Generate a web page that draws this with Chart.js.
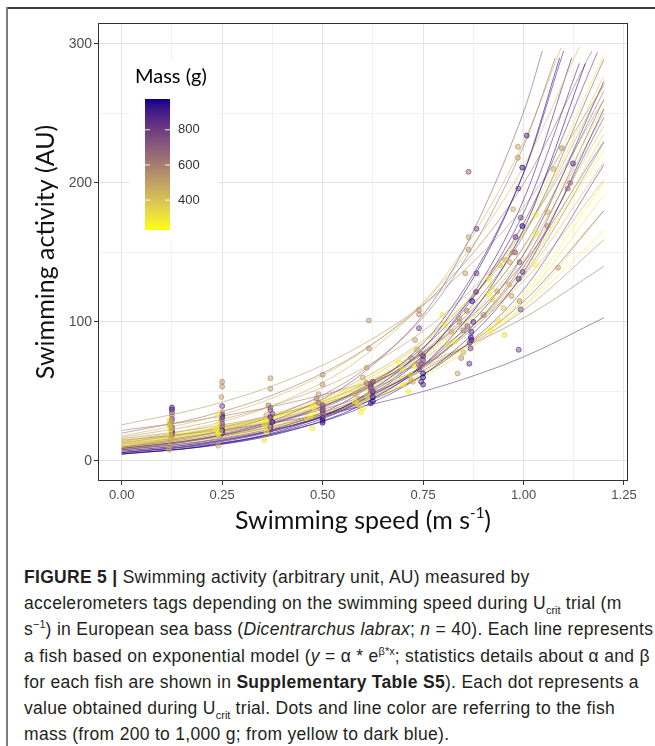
<!DOCTYPE html>
<html>
<head>
<meta charset="utf-8">
<script src="https://cdn.jsdelivr.net/npm/chart.js@4.4.1/dist/chart.umd.min.js"></script>
<style>
  html, body { margin: 0; padding: 0; background: #fff; }
  #wrap { position: relative; width: 655px; height: 746px; overflow: hidden; }
  #myChart { position: absolute; left: 0; top: 0; }
  .frameTop { position: absolute; left: 7px; top: 7px; width: 648px; height: 2px; background: #3c3c3c; }
  .frameLeft { position: absolute; left: 6px; top: 7px; width: 2px; height: 739px; background: #7d7d7d; }
  #caption { position: absolute; left: 24px; top: 564px; font-family: "Liberation Sans", Arial, sans-serif;
             font-size: 17.5px; letter-spacing: 0.3px; color: #231f20; white-space: nowrap; }
  #caption div { height: 26.2px; line-height: 26.2px; }
  #caption sub, #caption sup { font-size: 11px; line-height: 0; letter-spacing: 0; }
</style>
</head>
<body>
<div id="wrap">
  <canvas id="myChart" width="655" height="545"></canvas>
  <div class="frameTop"></div>
  <div class="frameLeft"></div>
  <div id="caption">
    <div><b>FIGURE 5 |</b> Swimming activity (arbitrary unit, AU) measured by</div>
    <div>accelerometers tags depending on the swimming speed during U<sub>crit</sub> trial (m</div>
    <div>s<sup>−1</sup>) in European sea bass (<i>Dicentrarchus labrax</i>; <i>n</i> = 40). Each line represents</div>
    <div>a fish based on exponential model (<i>y</i> = α * e<sup>β*x</sup>; statistics details about α and β</div>
    <div>for each fish are shown in <b>Supplementary Table S5</b>). Each dot represents a</div>
    <div>value obtained during U<sub>crit</sub> trial. Dots and line color are referring to the fish</div>
    <div>mass (from 200 to 1,000 g; from yellow to dark blue).</div>
  </div>
</div>
<script>
var stationX = [0, 0.2, 0.4, 0.6, 0.8, 1.0, 1.2];

// fish mass (g), one per line
var fishMass = [720, 640, 950, 440, 420, 880, 960, 520, 820, 300,
                700, 330, 850, 480, 650, 280, 900, 750, 380, 600,
                250, 800, 430, 300, 700, 260, 550, 600, 800, 620,
                500, 350, 920, 400, 720, 240, 880, 460, 680, 330];

// activity of each fitted line at stationX (null = above the panel)
var curveY = [
    [8, 15.9, 31.7, 63.2, 125.9, 250.8, null],
    [10, 18.7, 34.8, 65.0, 121.3, 226.3, null],
    [5, 10.5, 22.2, 46.7, 98.3, 207.1, null],
    [14, 24.5, 42.8, 74.9, 131.0, 229.1, null],
    [18, 29.5, 48.2, 78.9, 129.2, 211.6, null],
    [6, 11.8, 23.3, 45.9, 90.5, 178.4, null],
    [5, 10.1, 20.3, 41.0, 82.6, 166.5, null],
    [26, 38.4, 56.7, 83.8, 123.7, 182.7, 269.9],
    [9, 16.2, 29.2, 52.7, 94.9, 171.0, null],
    [11, 19.0, 32.8, 56.7, 97.9, 169.0, 292],
    [9, 16.0, 28.6, 51.0, 90.9, 162.1, 289],
    [12, 20.2, 34.2, 57.6, 97.2, 164.0, 277],
    [7, 12.9, 23.8, 43.8, 80.6, 148.5, 273],
    [13, 21.6, 35.8, 59.4, 98.5, 163.4, 271],
    [10, 17.3, 29.9, 51.6, 89.1, 154.0, 266],
    [12, 20.0, 33.2, 55.3, 92.0, 153.1, 255],
    [6, 11.2, 20.9, 39.0, 72.7, 135.7, 253],
    [8, 14.2, 25.1, 44.4, 78.7, 139.4, 247],
    [11, 18.4, 30.8, 51.5, 86.2, 144.2, 241],
    [9, 15.4, 26.5, 45.4, 77.9, 133.6, 229],
    [13, 20.9, 33.5, 53.8, 86.5, 138.9, 223],
    [8, 13.8, 23.9, 41.3, 71.3, 123.3, 213],
    [14, 21.8, 34.1, 53.2, 83.0, 129.4, 202],
    [10, 16.4, 26.7, 43.7, 71.5, 116.9, 191],
    [12, 18.8, 29.6, 46.5, 73.0, 114.6, 180],
    [15, 22.4, 33.4, 49.9, 74.5, 111.2, 166],
    [16, 23.5, 34.4, 50.4, 73.9, 108.4, 159],
    [22, 29.9, 40.7, 55.5, 75.5, 102.8, 140],
    [15, 20.7, 28.5, 39.3, 54.2, 74.8, 103],
    [20, 31.7, 50.2, 79.5, 125.9, 199.4, null],
    [17, 26.8, 42.2, 66.5, 104.9, 165.3, 260],
    [9, 15.5, 26.7, 46.0, 79.2, 136.3, 235],
    [5, 10.3, 21.3, 44.0, 90.9, 187.7, null],
    [12, 19.4, 31.4, 50.7, 82.0, 132.7, 215],
    [7, 12.8, 23.4, 42.7, 78.0, 142.5, 260],
    [9, 15.1, 25.3, 42.4, 71.2, 119.4, 200],
    [6, 12.2, 24.7, 50.2, 101.9, 206.9, null],
    [11, 18.5, 31.1, 52.4, 88.2, 148.4, 250],
    [13, 21.0, 33.9, 54.7, 88.2, 142.4, 230],
    [10, 16.2, 26.2, 42.4, 68.7, 111.2, 180]
];

// last point of lines that leave the panel at the top: [speed, activity]
var curveEnd = [
    [1.047, 295], [1.079, 290], [1.09, 290], [1.093, 297], [1.139, 298],
    [1.139, 286], [1.154, 286], null, [1.184, 294], null,
    null, null, null, null, null, null, null, null, null, null,
    null, null, null, null, null, null, null, null, null, [1.17, 295],
    null, null, [1.12, 290], null, null, null, [1.1, 295], null, null, null
];

// measured dots during the Ucrit trial
var dotX = [
    0.125, 0.125, 0.125, 0.125, 0.125, 0.125, 0.125, 0.125, 0.122, 0.118, 0.12, 0.118, 0.122, 0.12, 0.12, 0.125, 0.125, 0.12, 0.125, 0.125, 0.122, 0.12, 0.118,
    0.25, 0.25, 0.248, 0.25, 0.248, 0.25, 0.245, 0.24, 0.25, 0.25, 0.25, 0.25, 0.25, 0.25, 0.24, 0.24, 0.235, 0.245, 0.24, 0.25, 0.25,
    0.37, 0.37, 0.365, 0.36, 0.37, 0.37, 0.37, 0.375, 0.37, 0.375, 0.37, 0.37, 0.36, 0.355, 0.36, 0.355, 0.365, 0.37,
    0.5, 0.5, 0.49, 0.485, 0.5, 0.5, 0.475, 0.48, 0.47, 0.46, 0.475, 0.49, 0.5, 0.5, 0.5, 0.5, 0.5, 0.5, 0.49, 0.5,
    0.615, 0.615, 0.61, 0.6, 0.58, 0.62, 0.59, 0.625, 0.62, 0.625, 0.625, 0.625, 0.62, 0.62, 0.6, 0.595, 0.58, 0.61, 0.59, 0.61, 0.62,
    0.74, 0.74, 0.73, 0.735, 0.72, 0.725, 0.72, 0.74, 0.75, 0.75, 0.745, 0.75, 0.745, 0.75, 0.74, 0.75, 0.69, 0.714, 0.7, 0.72, 0.7, 0.73, 0.745, 0.74,
    0.798, 0.802, 0.84, 0.84, 0.845, 0.859, 0.869, 0.87, 0.866, 0.868, 0.855, 0.883, 0.882, 0.872, 0.863, 0.863, 0.883, 0.863, 0.82, 0.81, 0.83, 0.85, 0.86, 0.875, 0.865, 0.836, 0.85, 0.87,
    1.008, 0.986, 0.986, 0.997, 0.987, 0.974, 0.993, 0.997, 0.98, 0.979, 0.973, 0.966, 0.99, 0.998, 0.988, 0.942, 0.954, 0.914, 0.914, 0.923, 0.964, 0.97, 0.99, 0.993, 0.988, 0.917, 0.938, 0.953, 0.9, 0.92, 0.95, 0.935,
    1.031, 1.059, 1.031, 1.059, 1.086, 1.075, 1.095, 1.116, 1.11, 1.123, 1.03
];
var dotY = [
    38.5, 37, 35, 30.5, 24, 22, 20.5, 19, 27, 29.5, 27.5, 25, 22.5, 20, 17.5, 33, 29, 26, 23.5, 18.5, 15.5, 11, 8,
    57, 53.5, 46, 35, 29, 24.5, 18, 11, 39.5, 33, 31.5, 27, 22, 20, 33.5, 26.5, 23, 21, 19.5, 30, 25.5,
    59.5, 52, 40, 33, 30, 26, 36.5, 34, 31.5, 28, 24.5, 22.5, 29, 26.5, 21, 15, 24, 38.5,
    62, 55, 48, 45, 37, 33.5, 39.5, 36, 33, 31, 23.5, 41.5, 40, 36.5, 34.5, 31, 29, 27.5, 42, 38.5,
    101, 81, 67, 60, 48, 50, 45, 57, 53.5, 50, 46, 43, 41.5, 55, 38, 35, 43, 47, 40.5, 56, 52,
    108.5, 105.5, 87, 80, 58, 57, 74, 95.5, 75.5, 72.5, 70, 63, 57, 55, 66, 60, 71, 50, 55, 62, 66, 68, 77, 69,
    105, 98.6, 102.7, 100, 74, 108, 89, 87, 85, 81, 135, 135, 121.6, 115, 161, 152, 167, 208, 93, 84, 86, 94, 97, 100, 70, 63, 78, 93,
    234, 226, 218, 211, 196, 181, 175, 169, 161, 150, 150, 143, 143, 136, 131, 140.6, 144.7, 131, 120, 116, 127, 118.7, 115, 109, 80, 94, 101, 90.6, 105, 125, 110, 122,
    177, 179, 164, 169, 139, 210, 225, 200, 196, 214, 141
];
var dotMass = [
    860, 900, 780, 820, 950, 900, 930, 760, 700, 270, 300, 260, 320, 280, 350, 560, 620, 500, 450, 540, 480, 520, 460,
    560, 540, 500, 520, 480, 600, 520, 470, 800, 840, 900, 760, 950, 880, 300, 260, 280, 330, 250, 680, 650,
    540, 520, 600, 480, 560, 500, 820, 760, 880, 940, 900, 800, 300, 280, 260, 320, 350, 660,
    560, 540, 520, 600, 500, 480, 300, 280, 260, 330, 300, 380, 800, 860, 760, 900, 950, 920, 650, 700,
    540, 560, 520, 500, 480, 600, 460, 780, 820, 880, 940, 960, 900, 750, 300, 280, 260, 350, 320, 660, 700,
    540, 560, 520, 500, 480, 460, 600, 800, 900, 820, 760, 940, 860, 880, 780, 960, 300, 280, 260, 330, 350, 250, 660, 700,
    290, 300, 520, 540, 560, 600, 920, 940, 780, 800, 520, 800, 820, 960, 520, 540, 780, 720, 480, 330, 280, 640, 700, 860, 820, 500, 460, 880,
    880, 500, 520, 940, 800, 480, 780, 960, 820, 760, 540, 500, 720, 800, 840, 400, 460, 300, 280, 380, 480, 520, 540, 760, 800, 300, 320, 340, 600, 350, 400, 500,
    290, 460, 300, 600, 500, 480, 560, 660, 680, 880, 270
];

// colour bar
var massRange = [230, 975];
var massTicks = [400, 600, 800];

// yellow -> dark blue, mixed in Lab space like ggplot's gradient
function lin(c) { c = c / 255; return c <= 0.04045 ? c / 12.92 : Math.pow((c + 0.055) / 1.055, 2.4); }
function unlin(c) { c = c <= 0.0031308 ? 12.92 * c : 1.055 * Math.pow(c, 1 / 2.4) - 0.055; return Math.round(Math.max(0, Math.min(1, c)) * 255); }
function toLab(rgb) {
    var r = lin(rgb[0]), g = lin(rgb[1]), b = lin(rgb[2]);
    var x = (r * 0.4124 + g * 0.3576 + b * 0.1805) / 0.95047;
    var y = (r * 0.2126 + g * 0.7152 + b * 0.0722);
    var z = (r * 0.0193 + g * 0.1192 + b * 0.9505) / 1.08883;
    var f = function (t) { return t > 0.008856 ? Math.cbrt(t) : 7.787 * t + 16 / 116; };
    return [116 * f(y) - 16, 500 * (f(x) - f(y)), 200 * (f(y) - f(z))];
}
function fromLab(lab) {
    var fy = (lab[0] + 16) / 116, fx = fy + lab[1] / 500, fz = fy - lab[2] / 200;
    var g = function (t) { return t > 0.206893 ? t * t * t : (t - 16 / 116) / 7.787; };
    var x = g(fx) * 0.95047, y = g(fy), z = g(fz) * 1.08883;
    return [unlin(x * 3.2406 + y * -1.5372 + z * -0.4986),
            unlin(x * -0.9689 + y * 1.8758 + z * 0.0415),
            unlin(x * 0.0557 + y * -0.2040 + z * 1.0570)];
}
var labLow = toLab([255, 255, 0]);
var labHigh = toLab([0, 0, 139]);
function massColor(m, a) {
    var t = Math.max(0, Math.min(1, (m - massRange[0]) / (massRange[1] - massRange[0])));
    var c = fromLab([0, 1, 2].map(function (i) { return labLow[i] + (labHigh[i] - labLow[i]) * t; }));
    return 'rgba(' + c[0] + ',' + c[1] + ',' + c[2] + ',' + a + ')';
}

var datasets = [];

// dots on top
datasets.push({
    label: 'dots',
    data: dotX.map(function (x, i) { return { x: x, y: dotY[i] }; }),
    pointRadius: 2.5,
    pointBorderWidth: 1,
    backgroundColor: function (c) { return massColor(dotMass[c.dataIndex], 0.45); },
    borderColor: function (c) { return massColor(dotMass[c.dataIndex], 0.7); },
    order: 0
});

fishMass.forEach(function (m, i) {
    var pts = [];
    stationX.forEach(function (x, k) {
        if (curveY[i][k] !== null) pts.push({ x: x, y: curveY[i][k] });
    });
    if (curveEnd[i]) pts.push({ x: curveEnd[i][0], y: curveEnd[i][1] });
    datasets.push({
        label: 'fish ' + (i + 1),
        data: pts,
        showLine: true,
        pointRadius: 0,
        borderWidth: 1,
        borderColor: massColor(m, 0.6),
        cubicInterpolationMode: 'monotone',
        order: 1
    });
});

function isMajor(v, step) { return Math.abs(v / step - Math.round(v / step)) < 1e-6; }

var extras = {
    id: 'extras',
    afterDraw: function (chart) {
        var c = chart.ctx, a = chart.chartArea;
        c.save();
        // panel border
        c.strokeStyle = '#333';
        c.lineWidth = 1;
        c.strokeRect(a.left + 0.5, a.top + 0.5, a.right - a.left - 1, a.bottom - a.top - 1);

        // legend
        c.fillStyle = '#fff';
        c.fillRect(129, 60, 89, 182);
        c.fillStyle = '#000';
        c.font = '20px Lato, "Open Sans", sans-serif';
        c.textBaseline = 'alphabetic';
        c.textAlign = 'left';
        c.fillText('Mass (g)', 135, 83);
        var top = 99, bot = 230, bx = 145, bw = 25;
        for (var y = top; y < bot; y++) {
            var m = massRange[1] - (y + 0.5 - top) / (bot - top) * (massRange[1] - massRange[0]);
            c.fillStyle = massColor(m, 1);
            c.fillRect(bx, y, bw, 1);
        }
        c.font = '13px "Liberation Sans", Arial, sans-serif';
        c.textBaseline = 'middle';
        massTicks.forEach(function (t) {
            var ty = bot - (t - massRange[0]) / (massRange[1] - massRange[0]) * (bot - top);
            c.strokeStyle = 'rgba(255,255,255,0.9)';
            c.beginPath();
            c.moveTo(bx, ty); c.lineTo(bx + 5, ty);
            c.moveTo(bx + bw - 5, ty); c.lineTo(bx + bw, ty);
            c.stroke();
            c.fillStyle = '#333';
            c.fillText(String(t), 178, ty);
        });

        // axis titles
        c.fillStyle = '#111';
        c.font = '25px Lato, "Open Sans", sans-serif';
        var main = 'Swimming speed (m s', sup = '-1';
        var w1 = c.measureText(main).width;
        c.font = '15px Lato, "Open Sans", sans-serif';
        var w2 = c.measureText(sup).width;
        c.font = '25px Lato, "Open Sans", sans-serif';
        var w3 = c.measureText(')').width;
        var x0 = (a.left + a.right) / 2 - (w1 + w2 + w3) / 2;
        c.textAlign = 'left';
        c.textBaseline = 'alphabetic';
        c.fillText(main, x0, 529);
        c.fillText(')', x0 + w1 + w2, 529);
        c.font = '15px Lato, "Open Sans", sans-serif';
        c.fillText(sup, x0 + w1, 518);

        c.font = '25px Lato, "Open Sans", sans-serif';
        c.translate(46, (a.top + a.bottom) / 2);
        c.rotate(-Math.PI / 2);
        c.textAlign = 'center';
        c.textBaseline = 'middle';
        c.fillText('Swimming activity (AU)', 0, 0);
        c.restore();
    }
};

var ctx = document.getElementById('myChart').getContext('2d');
var myChart = new Chart(ctx, {
    type: 'scatter',
    data: { datasets: datasets },
    options: {
        responsive: false,
        animation: false,
        layout: { padding: { top: 23, right: 27, left: 0, bottom: 0 } },
        plugins: { legend: { display: false }, tooltip: { enabled: false } },
        scales: {
            x: {
                type: 'linear', min: -0.059, max: 1.26,
                afterFit: function (s) { s.height = 64; },
                border: { display: false },
                grid: {
                    color: function (c) { return isMajor(c.tick.value, 0.25) ? '#e3e3e3' : '#f0f0f0'; },
                    tickColor: function (c) { return isMajor(c.tick.value, 0.25) ? '#333' : 'rgba(0,0,0,0)'; },
                    tickLength: 4
                },
                ticks: {
                    stepSize: 0.125, includeBounds: false, autoSkip: false, maxRotation: 0, maxTicksLimit: 100,
                    padding: 3, color: '#4d4d4d',
                    font: { family: '"Liberation Sans", Arial, sans-serif', size: 13 },
                    callback: function (v) { return isMajor(v, 0.25) ? v.toFixed(2) : ''; }
                }
            },
            y: {
                min: -14.4, max: 315,
                afterFit: function (s) { s.width = 98; },
                border: { display: false },
                grid: {
                    color: function (c) { return isMajor(c.tick.value, 100) ? '#e3e3e3' : '#f0f0f0'; },
                    tickColor: function (c) { return isMajor(c.tick.value, 100) ? '#333' : 'rgba(0,0,0,0)'; },
                    tickLength: 4
                },
                ticks: {
                    stepSize: 50, includeBounds: false, autoSkip: false, maxTicksLimit: 100,
                    padding: 2, color: '#4d4d4d',
                    font: { family: '"Liberation Sans", Arial, sans-serif', size: 14 },
                    callback: function (v) { return isMajor(v, 100) ? String(v) : ''; }
                }
            }
        }
    },
    plugins: [extras]
});
</script>
</body>
</html>
